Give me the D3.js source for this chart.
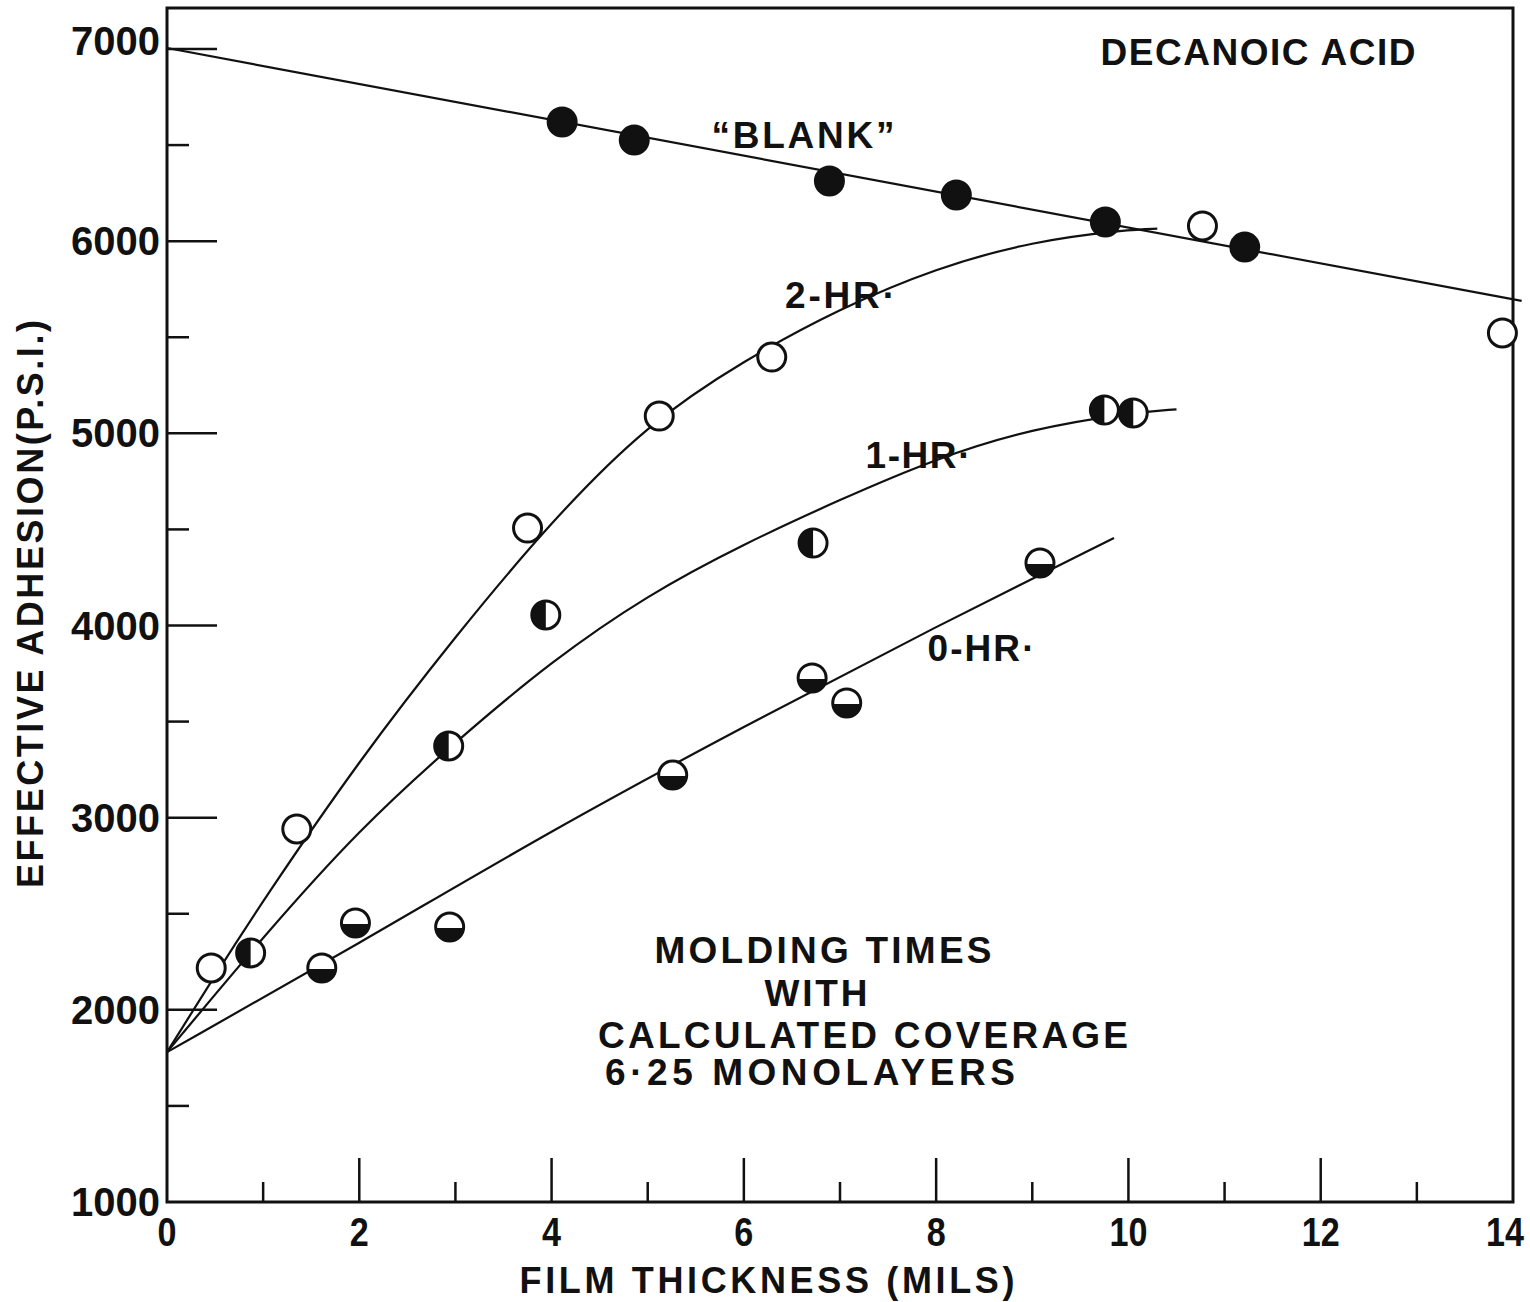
<!DOCTYPE html>
<html>
<head>
<meta charset="utf-8">
<script src="https://cdn.jsdelivr.net/npm/d3@7"></script>
<style>
  body { margin: 0; background: #fff; }
  svg text { font-family: "Liberation Sans", Arial, sans-serif; font-weight: bold; fill: #111; }
</style>
</head>
<body>
<svg id="chart" width="1530" height="1302"></svg>
<script>
// measured points, [thickness mils, adhesion psi]
var blankPts = [[4.11, 6620], [4.86, 6526], [6.89, 6313], [8.21, 6240], [9.76, 6100], [11.21, 5969]];
var hr2Pts = [[0.46, 2218], [1.35, 2941], [3.75, 4507], [5.12, 5090], [6.29, 5397], [10.77, 6079], [13.89, 5522]];
var hr1Pts = [[0.87, 2296], [2.93, 3373], [3.94, 4055], [6.72, 4429], [9.75, 5121], [10.05, 5106]];
var hr0Pts = [[1.61, 2218], [1.96, 2452], [2.94, 2431], [5.26, 3222], [6.71, 3727], [7.07, 3597], [9.08, 4325]];

// hand drawn fit lines
var blankLine = [[0, 7005], [14.09, 5689]];
var hr2Line = [[0, 1780], [0.5, 2180], [1, 2570], [2, 3300], [3, 3945], [4, 4545], [5, 5050],
  [6, 5380], [7, 5650], [8, 5860], [9, 6000], [10, 6060], [10.3, 6065]];
var hr1Line = [[0, 1780], [1, 2380], [2, 2940], [3, 3395], [4, 3815], [5, 4160], [6, 4425],
  [7, 4655], [8, 4870], [9, 5025], [10, 5105], [10.5, 5125]];
var hr0Line = [[0, 1780], [2, 2345], [4, 2935], [6, 3475], [8, 3995], [9.85, 4455]];

var xTicks = [0, 2, 4, 6, 8, 10, 12, 14];
var xMinor = [1, 3, 5, 7, 9, 11, 13];
var yTicks = [1000, 2000, 3000, 4000, 5000, 6000, 7000];
var yMinor = [1500, 2500, 3500, 4500, 5500, 6500];

var svg = d3.select("#chart");
var x = d3.scaleLinear().domain([0, 14]).range([167, 1513]);
var y = d3.scaleLinear().domain([1000, 7000]).range([1202, 49]);

// frame
svg.append("rect")
  .attr("x", x(0)).attr("y", 8)
  .attr("width", x(14) - x(0)).attr("height", y(1000) - 8)
  .attr("fill", "none").attr("stroke", "#111").attr("stroke-width", 3);

// ticks (inward)
var g = svg.append("g").attr("stroke", "#111");
g.selectAll(".xt").data(xTicks.slice(1, -1)).enter().append("line")
  .attr("x1", function(d) { return x(d); }).attr("x2", function(d) { return x(d); })
  .attr("y1", y(1000)).attr("y2", y(1000) - 44).attr("stroke-width", 2.5);
g.selectAll(".xm").data(xMinor).enter().append("line")
  .attr("x1", function(d) { return x(d); }).attr("x2", function(d) { return x(d); })
  .attr("y1", y(1000)).attr("y2", y(1000) - 20).attr("stroke-width", 2.5);
g.selectAll(".yt").data(yTicks.slice(1)).enter().append("line")
  .attr("x1", x(0)).attr("x2", x(0) + 50)
  .attr("y1", function(d) { return y(d); }).attr("y2", function(d) { return y(d); }).attr("stroke-width", 2.5);
g.selectAll(".ym").data(yMinor).enter().append("line")
  .attr("x1", x(0)).attr("x2", x(0) + 22)
  .attr("y1", function(d) { return y(d); }).attr("y2", function(d) { return y(d); }).attr("stroke-width", 2.5);

// tick labels
svg.selectAll(".xl").data(xTicks).enter().append("text")
  .attr("x", function(d) { return x(d) - (d == 14 ? 8 : 0); }).attr("y", 1246)
  .attr("text-anchor", "middle").attr("font-size", 40)
  .attr("textLength", function(d) { return String(d).length * 19; })
  .attr("lengthAdjust", "spacingAndGlyphs")
  .text(function(d) { return d; });
svg.selectAll(".yl").data(yTicks).enter().append("text")
  .attr("x", 160).attr("y", function(d) { return y(d) + 14 - (d == 7000 ? 8 : 0); })
  .attr("text-anchor", "end").attr("font-size", 40)
  .text(function(d) { return d; });

// fit lines
var line = d3.line()
  .x(function(d) { return x(d[0]); })
  .y(function(d) { return y(d[1]); })
  .curve(d3.curveBasis);
[blankLine, hr2Line, hr1Line, hr0Line].forEach(function(l) {
  svg.append("path").attr("d", line(l))
    .attr("fill", "none").attr("stroke", "#111").attr("stroke-width", 2.2);
});

// markers
var r = 14;
function marker(pts, kind) {
  var mg = svg.append("g");
  mg.selectAll("circle").data(pts).enter().append("circle")
    .attr("cx", function(d) { return x(d[0]); })
    .attr("cy", function(d) { return y(d[1]); })
    .attr("r", r)
    .attr("fill", kind == "full" ? "#111" : "#fff")
    .attr("stroke", "#111").attr("stroke-width", 3);
  if (kind == "left" || kind == "bottom") {
    mg.selectAll("path").data(pts).enter().append("path")
      .attr("d", function(d) {
        var cx = x(d[0]), cy = y(d[1]);
        if (kind == "left")
          return "M" + cx + "," + (cy - r) + "A" + r + "," + r + " 0 0 0 " + cx + "," + (cy + r) + "Z";
        return "M" + (cx - r) + "," + (cy + 1) + "A" + r + "," + r + " 0 0 0 " + (cx + r) + "," + (cy + 1) + "Z";
      })
      .attr("fill", "#111");
  }
}
marker(blankPts, "full");
marker(hr2Pts, "open");
marker(hr1Pts, "left");
marker(hr0Pts, "bottom");

// annotations
function label(txt, cx, cy, size, len) {
  svg.append("text").attr("x", cx).attr("y", cy + size * 0.36)
    .attr("text-anchor", "middle").attr("font-size", size)
    .attr("textLength", len).attr("lengthAdjust", "spacing")
    .text(txt);
}
label("DECANOIC ACID", 1258, 52, 37, 315);
label("\u201CBLANK\u201D", 803, 135, 37, 183);
label("2-HR\u00B7", 840, 295, 37, 110);
label("1-HR\u00B7", 918, 455, 37, 105);
label("0-HR\u00B7", 981, 648, 37, 107);
label("MOLDING TIMES", 823, 950, 37, 337);
label("WITH", 816, 993, 37, 103);
label("CALCULATED COVERAGE", 863, 1035, 37, 530);
label("6\u00B725 MONOLAYERS", 810, 1072, 37, 410);

// axis titles
label("FILM THICKNESS (MILS)", 767, 1280, 36, 495);
svg.append("text")
  .attr("transform", "translate(30,604) rotate(-90)")
  .attr("y", 13)
  .attr("text-anchor", "middle").attr("font-size", 36)
  .attr("textLength", 568).attr("lengthAdjust", "spacing")
  .text("EFFECTIVE ADHESION(P.S.I.)");
</script>
</body>
</html>
